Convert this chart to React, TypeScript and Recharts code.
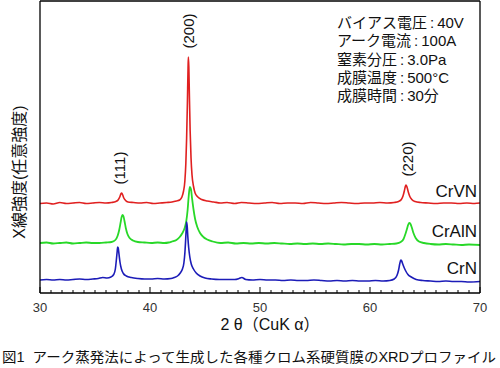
import React from "react";
import { LineChart, Line, XAxis, YAxis } from "recharts";

// 2θ (deg) vs intensity (arb. units)
const crvnPts: [number, number][] = [
  [30, 89.5], [30.6, 90], [31.2, 89], [31.8, 90.5], [32.4, 89.5], [33, 90], [33.6, 90.5], [34.2, 89.5],
  [34.8, 90], [35.4, 90.5], [36, 90], [36.5, 90.5], [36.9, 91.5], [37.1, 93], [37.25, 96], [37.35, 99],
  [37.43, 100], [37.52, 98], [37.62, 95], [37.78, 92.5], [38, 91], [38.5, 90.5], [39.1, 90], [39.7, 90.5],
  [40.3, 89.5], [40.9, 90], [41.5, 90.5], [42, 91], [42.4, 92], [42.7, 93], [42.9, 96], [43.05, 102],
  [43.17, 112], [43.26, 130], [43.33, 155], [43.4, 190], [43.46, 225], [43.49, 236], [43.53, 226],
  [43.58, 198], [43.65, 162], [43.73, 135], [43.82, 118], [43.95, 107], [44.1, 100], [44.35, 96],
  [44.7, 93.5], [45.2, 92], [45.8, 91], [46.4, 90], [47, 90.5], [47.7, 89.5], [48.3, 90.5], [49, 90],
  [49.7, 89.5], [50.4, 90], [51.1, 90.5], [51.8, 89.5], [52.5, 90], [53.2, 90], [53.9, 89.5], [54.6, 90.5],
  [55.3, 90], [56, 89.5], [56.7, 90], [57.4, 90.5], [58.1, 90], [58.8, 89.5], [59.5, 90], [60.2, 90],
  [60.9, 90.5], [61.6, 90], [62.2, 90.5], [62.6, 91.5], [62.85, 93.5], [63, 97], [63.12, 102], [63.2, 106],
  [63.27, 108], [63.36, 106], [63.48, 101], [63.62, 96.5], [63.8, 93.5], [64.1, 91.5], [64.6, 90.5],
  [65.3, 90], [66, 89.5], [66.7, 90], [67.4, 90], [68.1, 89.5], [68.8, 90], [69.5, 89.5], [70, 90],
];

const cralnPts: [number, number][] = [
  [30, 50], [30.6, 50.5], [31.2, 49.5], [31.8, 50], [32.4, 50.5], [33, 49.5], [33.6, 50], [34.2, 50.5],
  [34.8, 50], [35.4, 50], [36, 50.5], [36.5, 51], [36.85, 53], [37.05, 57], [37.2, 63], [37.32, 70],
  [37.42, 76], [37.5, 78], [37.58, 77], [37.68, 72], [37.8, 65], [37.95, 59], [38.15, 55], [38.45, 52.5],
  [38.9, 51], [39.5, 50.5], [40.1, 50], [40.7, 50.5], [41.3, 50], [41.7, 50.5], [42, 51.5], [42.4, 53],
  [42.7, 56], [42.95, 60], [43.15, 65], [43.3, 72], [43.42, 83], [43.52, 97], [43.62, 106], [43.72, 104],
  [43.82, 95], [43.95, 84], [44.1, 74], [44.3, 66], [44.55, 60], [44.85, 56], [45.2, 53.5], [45.7, 51.5],
  [46.4, 50], [47.1, 50.5], [47.8, 49.5], [48.5, 50], [49.2, 49.5], [49.9, 50], [50.6, 49.5], [51.3, 50],
  [52, 49.5], [52.7, 49], [53.4, 49.5], [54.1, 49], [54.8, 49.5], [55.5, 49], [56.2, 49.5], [56.9, 49],
  [57.6, 48.5], [58.3, 49], [59, 49], [59.7, 48.5], [60.4, 49], [61.1, 48.5], [61.8, 49], [62.4, 49.5],
  [62.8, 51], [63.05, 54], [63.22, 59], [63.36, 64], [63.48, 68.5], [63.57, 70], [63.68, 69], [63.8, 65.5],
  [63.95, 60], [64.15, 55], [64.45, 51.5], [64.9, 50], [65.5, 49], [66.2, 48.5], [66.9, 49], [67.6, 48.5],
  [68.3, 48], [69, 48.5], [70, 48],
];

const crnPts: [number, number][] = [
  [30, 13], [30.6, 13.5], [31.2, 13], [31.8, 13.5], [32.4, 13], [33, 13.5], [33.6, 14], [34.2, 13.5],
  [34.8, 14], [35.3, 14.5], [35.7, 15.5], [36.1, 15], [36.45, 16], [36.7, 18.5], [36.85, 24], [36.95, 34],
  [37.02, 42], [37.06, 46], [37.11, 45], [37.18, 39], [37.27, 31], [37.4, 24], [37.58, 19.5], [37.85, 17],
  [38.3, 15.5], [38.9, 14.5], [39.5, 14], [40.1, 14], [40.7, 14.5], [41.3, 14], [41.9, 14.5], [42.2, 15.5],
  [42.5, 17], [42.75, 20], [42.95, 24], [43.08, 30], [43.17, 40], [43.24, 53], [43.29, 64], [43.33, 71],
  [43.38, 67], [43.44, 56], [43.52, 45], [43.62, 36], [43.75, 29], [43.95, 24], [44.2, 20], [44.55, 17],
  [45, 15], [45.6, 14], [46.3, 13.5], [47, 13.5], [47.7, 13.5], [48.1, 14.5], [48.35, 15.5], [48.7, 13.5],
  [49.3, 13], [50, 13.5], [50.7, 13], [51.4, 13], [52.1, 12.5], [52.8, 13], [53.5, 12.5], [54.2, 12.5],
  [54.9, 13], [55.6, 12.5], [56.3, 12], [57, 12.5], [57.7, 12], [58.4, 12.5], [59.1, 12], [59.8, 12],
  [60.5, 12.5], [61.2, 12], [61.8, 12.5], [62.2, 14], [62.45, 17.5], [62.6, 23], [62.7, 29], [62.8, 33],
  [62.88, 32], [62.98, 29], [63.1, 25.5], [63.25, 22], [63.45, 18.5], [63.75, 16], [64.2, 13.5],
  [64.8, 12.5], [65.5, 12], [66.2, 11.5], [66.9, 12], [67.6, 11.5], [68.3, 11.5], [69, 11], [70, 11.5],
];

const xTicks = Array.from({ length: 41 }, (_, k) => 30 + k);

const conditions = [
  "バイアス電圧 : 40V",
  "アーク電流 : 100A",
  "窒素分圧 : 3.0Pa",
  "成膜温度 : 500°C",
  "成膜時間 : 30分",
];

const toRows = (pts: [number, number][]) => pts.map(([t, i]) => ({ t, i }));
const crvn = toRows(crvnPts);
const craln = toRows(cralnPts);
const crn = toRows(crnPts);

const FONT = "'Liberation Sans', Arial, 'Noto Sans CJK JP', sans-serif";

const BottomTick = (props: any) => {
  const { x, y, payload } = props;
  const major = payload.value % 10 === 0;
  return (
    <g>
      <line x1={x} x2={x} y1={y} y2={y - (major ? 6 : 3)} stroke="#000" strokeWidth={1} />
      {major && (
        <text x={x} y={y + 19} textAnchor="middle" fontSize={13} fill="#333" fontFamily={FONT}>
          {payload.value}
        </text>
      )}
    </g>
  );
};

const TopTick = (props: any) => {
  const { x, y, payload } = props;
  const major = payload.value % 10 === 0;
  return <line x1={x} x2={x} y1={y} y2={y + (major ? 6 : 3)} stroke="#000" strokeWidth={1} />;
};

export default function App() {
  return (
    <div style={{ position: "absolute", left: 0, top: 0, width: 500, height: 368, background: "#fff" }}>
      <LineChart width={500} height={368} margin={{ top: 0, right: 19, bottom: 45, left: 39 }}>
        <XAxis
          dataKey="t"
          type="number"
          domain={[30, 70]}
          ticks={xTicks}
          interval={0}
          height={30}
          tickSize={0}
          tickMargin={0}
          tickLine={false}
          tick={<BottomTick />}
          axisLine={{ stroke: "#000", strokeWidth: 1.3 }}
          allowDataOverflow
        />
        <XAxis
          xAxisId="top"
          orientation="top"
          type="number"
          domain={[30, 70]}
          ticks={xTicks}
          interval={0}
          height={1}
          tickSize={0}
          tickMargin={0}
          tickLine={false}
          tick={<TopTick />}
          axisLine={{ stroke: "#000", strokeWidth: 1.3 }}
          allowDataOverflow
        />
        <YAxis
          type="number"
          domain={[0, 292]}
          width={1}
          tick={false}
          tickLine={false}
          axisLine={{ stroke: "#000", strokeWidth: 1.3 }}
          allowDataOverflow
        />
        <YAxis
          yAxisId="r"
          orientation="right"
          type="number"
          domain={[0, 292]}
          width={1}
          tick={false}
          tickLine={false}
          axisLine={{ stroke: "#000", strokeWidth: 1.3 }}
        />
        <Line data={crvn} dataKey="i" type="monotone" stroke="#e02020" strokeWidth={1.6} dot={false} isAnimationActive={false} />
        <Line data={craln} dataKey="i" type="monotone" stroke="#28d828" strokeWidth={1.8} dot={false} isAnimationActive={false} />
        <Line data={crn} dataKey="i" type="monotone" stroke="#1c1cb8" strokeWidth={1.6} dot={false} isAnimationActive={false} />
      </LineChart>
      <svg
        width={500}
        height={368}
        style={{ position: "absolute", left: 0, top: 0, pointerEvents: "none" }}
        fontFamily={FONT}
      >
        {conditions.map((c, k) => (
          <text key={c} x={337} y={28 + k * 18.25} fontSize={15} fill="#111" style={{ whiteSpace: "pre" }}>
            {c.replace(/ /g, "\u2009")}
          </text>
        ))}
        <text x={477} y={197} textAnchor="end" fontSize={17} fill="#111">CrVN</text>
        <text x={477} y={237} textAnchor="end" fontSize={17} fill="#111">CrAlN</text>
        <text x={477} y={274} textAnchor="end" fontSize={17} fill="#111">CrN</text>
        <text x={119} y={168} transform="rotate(-90 119 168)" textAnchor="middle" dominantBaseline="central" fontSize={15} fill="#111">(111)</text>
        <text x={188} y={31} transform="rotate(-90 188 31)" textAnchor="middle" dominantBaseline="central" fontSize={15} fill="#111">(200)</text>
        <text x={407} y={159} transform="rotate(-90 407 159)" textAnchor="middle" dominantBaseline="central" fontSize={15} fill="#111">(220)</text>
        <text x={19} y={172} transform="rotate(-90 19 172)" textAnchor="middle" dominantBaseline="central" fontSize={16} fill="#111">X線強度(任意強度)</text>
        <text x={270} y={330} textAnchor="middle" fontSize={16} fill="#111">2 θ（CuK α）</text>
        <text x={2} y={362} fontSize={13.8} fill="#111" textLength={494} lengthAdjust="spacingAndGlyphs">
          {"図1\u00a0\u00a0アーク蒸発法によって生成した各種クロム系硬質膜のXRDプロファイル"}
        </text>
      </svg>
    </div>
  );
}
